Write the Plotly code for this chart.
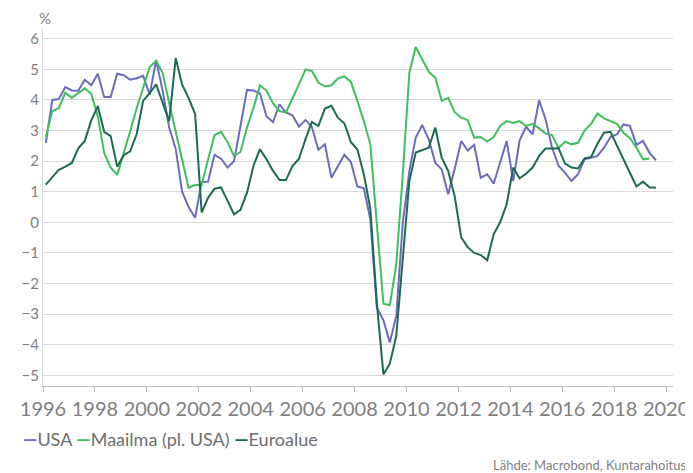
import plotly.graph_objects as go
import pandas as pd

# Quarterly observations, 1996Q1 .. 2019Q3
quarters = pd.date_range('1996-01-01', periods=95, freq='QS') + pd.Timedelta(days=40)

usa = [2.6, 4.0, 4.03, 4.42, 4.31, 4.3, 4.66, 4.48, 4.86, 4.1,
       4.1, 4.86, 4.81, 4.66, 4.71, 4.79, 4.18, 5.3, 4.3, 3.1,
       2.4, 1.0, 0.5, 0.15, 1.32, 1.33, 2.21, 2.08, 1.79, 2.0,
       3.15, 4.33, 4.31, 4.21, 3.46, 3.28, 3.86, 3.59, 3.5, 3.13,
       3.35, 3.12, 2.37, 2.55, 1.46, 1.84, 2.21, 1.97, 1.17, 1.11,
       0.1, -2.79, -3.2, -3.93, -3.06, 0.0, 1.68, 2.77, 3.18, 2.71,
       1.95, 1.73, 0.92, 1.75, 2.66, 2.35, 2.53, 1.46, 1.57, 1.26,
       1.95, 2.66, 1.35, 2.68, 3.12, 2.88, 3.99, 3.37, 2.44, 1.85,
       1.62, 1.35, 1.57, 2.06, 2.11, 2.17, 2.44, 2.79, 2.88, 3.2,
       3.15, 2.53, 2.66, 2.28, 2.03]

maailma = [2.8, 3.64, 3.73, 4.24, 4.07, 4.23, 4.38, 4.2, 3.47, 2.27,
           1.79, 1.55, 2.25, 2.98, 3.72, 4.42, 5.08, 5.28, 4.89, 3.9,
           3.0, 2.1, 1.13, 1.22, 1.22, 2.05, 2.85, 2.96, 2.62, 2.17,
           2.3, 3.1, 3.75, 4.48, 4.3, 3.89, 3.64, 3.59, 4.02, 4.51,
           5.0, 4.95, 4.57, 4.44, 4.48, 4.7, 4.77, 4.59, 3.97, 3.31,
           2.55, 0.0, -2.66, -2.71, -1.37, 1.6, 4.89, 5.73, 5.33, 4.92,
           4.73, 3.97, 4.07, 3.6, 3.42, 3.34, 2.77, 2.79, 2.64, 2.79,
           3.15, 3.31, 3.25, 3.31, 3.15, 3.22, 3.07, 2.9, 2.85, 2.43,
           2.64, 2.55, 2.6, 3.0, 3.22, 3.56, 3.4, 3.31, 3.22, 2.93,
           2.75, 2.44, 2.06, 2.09]

euroalue = [1.23, 1.46, 1.72, 1.82, 1.94, 2.42, 2.66, 3.33, 3.8, 2.96,
            2.82, 1.82, 2.2, 2.32, 2.88, 3.97, 4.22, 4.51, 3.88, 3.31,
            5.37, 4.5, 4.07, 3.54, 0.32, 0.8, 1.1, 1.14, 0.7, 0.26,
            0.41, 0.97, 1.86, 2.39, 2.06, 1.68, 1.38, 1.38, 1.84, 2.08,
            2.72, 3.28, 3.15, 3.72, 3.81, 3.42, 3.24, 2.63, 2.38, 1.57,
            0.45, -2.65, -4.97, -4.62, -3.71, -1.15, 1.35, 2.28, 2.35, 2.44,
            3.1, 2.11, 1.68, 0.85, -0.5, -0.81, -1.0, -1.07, -1.24, -0.39,
            0.0, 0.59, 1.79, 1.44, 1.59, 1.79, 2.17, 2.41, 2.41, 2.42,
            1.92, 1.79, 1.76, 2.09, 2.14, 2.57, 2.93, 2.96, 2.5, 2.08,
            1.62, 1.17, 1.33, 1.15, 1.13]

series_names = ['USA', 'Maailma (pl. USA)', 'Euroalue']
series_colors = ['#6d6bbf', '#3dbf5e', '#1b6a52']

FONT = 'Lato, Open Sans, sans-serif'
GRAY = '#7f7f7f'

fig = go.Figure()
for name, vals, col in zip(series_names, [usa, maailma, euroalue], series_colors):
    fig.add_trace(go.Scatter(x=quarters[:len(vals)], y=vals, mode='lines', name=name,
                             line=dict(color=col, width=2)))

# compact legend as text, with coloured dash keys like the original
legend_text = '&nbsp;'.join(
    f'<span style="color:{c}"><b>—</b></span>{n}' for n, c in zip(series_names, series_colors)
)

fig.update_layout(
    width=693, height=473,
    margin=dict(l=33, r=23, t=21, b=95),
    paper_bgcolor='white', plot_bgcolor='white',
    font=dict(family=FONT, color=GRAY),
    showlegend=False,
    xaxis=dict(range=['1996-01-01', '2020-04-07'], tickmode='linear', tick0='1996-01-01',
               dtick='M24', tickformat='%Y', showgrid=False, showline=True,
               linecolor='#bfbfbf', linewidth=1, ticks='outside', ticklen=5,
               tickcolor='#bfbfbf', tickfont=dict(size=20, color=GRAY, family=FONT),
               ticklabeloverflow='allow', zeroline=False),
    yaxis=dict(range=[-5.35, 6.32], tickmode='linear', tick0=0, dtick=1,
               showgrid=True, gridcolor='#d9d9d9', gridwidth=1,
               showline=True, linecolor='#d9d9d9', linewidth=1, zeroline=False,
               ticks='', tickfont=dict(size=15, color=GRAY, family=FONT)),
    annotations=[
        dict(text='%', xref='paper', yref='paper', x=-0.01, y=1.031,
             xanchor='left', yanchor='middle', showarrow=False,
             font=dict(size=15, color=GRAY, family=FONT)),
        dict(text=legend_text, xref='paper', yref='paper', x=-0.035, y=-0.148,
             xanchor='left', yanchor='middle', showarrow=False,
             font=dict(size=18, color='#6e6e6e', family=FONT)),
        dict(text='Lähde: Macrobond, Kuntarahoitus', xref='paper', yref='paper',
             x=1.025, y=-0.221, xanchor='right', yanchor='middle', showarrow=False,
             font=dict(size=13, color=GRAY, family=FONT)),
    ],
)

fig.write_html('out.html')
